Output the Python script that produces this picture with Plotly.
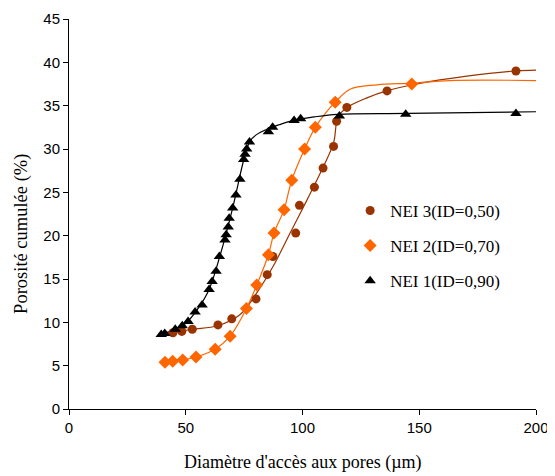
import plotly.graph_objects as go

# ---- data ----
# NEI 3 (ID=0,50) measured points
nei3_x = [44.5, 48.3, 52.8, 63.8, 69.7, 80.1, 84.9, 87.3, 97.1, 98.7, 105.1, 108.8, 113.3, 114.6, 119.0, 136.2, 191.4]
nei3_y = [8.8, 8.95, 9.2, 9.7, 10.4, 12.7, 15.5, 17.6, 20.3, 23.5, 25.6, 27.8, 30.3, 33.2, 34.8, 36.7, 39.0]
# NEI 3 fitted curve
nei3_fit_x = [41, 44.7, 52.6, 63.6, 73.3, 80.4, 87.5, 94.7, 101.9, 109, 113.3, 115.4, 120.4, 127.6, 136, 149, 170.4, 191.4, 200]
nei3_fit_y = [8.7, 8.8, 9.2, 9.6, 10.9, 13.4, 16.5, 20.3, 24.1, 28.0, 30.7, 33.8, 35.0, 35.9, 36.7, 37.5, 38.4, 39.0, 39.1]

# NEI 2 (ID=0,70) measured points
nei2_x = [41.1, 44.4, 48.7, 54.4, 62.6, 69.0, 76.0, 80.4, 85.4, 87.8, 92.1, 95.4, 100.9, 105.5, 114.0, 146.8]
nei2_y = [5.4, 5.5, 5.65, 6.0, 6.9, 8.4, 11.6, 14.3, 17.8, 20.3, 23.0, 26.4, 30.0, 32.5, 35.4, 37.5]
# NEI 2 fitted curve
nei2_fit_x = [40, 41.1, 44.4, 48.7, 54.4, 62.6, 69.0, 76.0, 80.4, 85.4, 87.8, 92.1, 95.4, 100.9, 105.5, 114.0, 120.4, 131.9, 146.8, 163.3, 200]
nei2_fit_y = [5.3, 5.4, 5.5, 5.65, 6.0, 6.9, 8.4, 11.6, 14.3, 17.8, 20.3, 23.0, 26.4, 30.0, 32.5, 35.4, 36.9, 37.4, 37.6, 37.9, 37.9]

# NEI 1 (ID=0,90) measured points
nei1_x = [39.5, 41.0, 45.5, 48.5, 51.0, 54.0, 57.0, 60.0, 61.3, 63.0, 64.4, 66.8, 67.3, 68.2, 68.6, 70.1, 71.5, 73.2, 74.8, 75.4, 76.1, 77.3, 85.4, 87.2, 96.4, 99.2, 115.8, 144.2, 191.4]
nei1_y = [8.6, 8.7, 9.2, 9.6, 10.1, 11.2, 12.0, 13.8, 14.7, 15.9, 17.6, 19.5, 20.1, 21.0, 22.0, 23.2, 24.7, 26.5, 28.8, 29.4, 30.0, 30.8, 32.0, 32.5, 33.3, 33.5, 33.8, 34.0, 34.1]
# NEI 1 fitted curve
nei1_fit_x = [38.5, 45, 50, 55, 60, 65, 70, 75, 77.5, 80, 85, 90, 96, 105, 115, 145, 200]
nei1_fit_y = [8.6, 9.1, 9.9, 11.5, 13.8, 18.0, 23.1, 28.9, 30.9, 31.6, 32.3, 32.8, 33.3, 33.7, 34.0, 34.1, 34.3]

series_names = ["NEI 3(ID=0,50)", "NEI 2(ID=0,70)", "NEI 1(ID=0,90)"]
x_ticks = [0, 50, 100, 150, 200]
y_ticks = [0, 5, 10, 15, 20, 25, 30, 35, 40, 45]
x_title = "Diamètre d'accès aux pores (µm)"
y_title = "Porosité cumulée (%)"

BROWN = "#993300"
ORANGE = "#FF6600"
BLACK = "#000000"
SERIF = "Liberation Serif, Times New Roman, serif"
SANS = "Liberation Sans, Arial, sans-serif"

fig = go.Figure()

# fitted curves
for fx, fy, col in [(nei3_fit_x, nei3_fit_y, BROWN), (nei2_fit_x, nei2_fit_y, ORANGE), (nei1_fit_x, nei1_fit_y, BLACK)]:
    fig.add_trace(go.Scatter(x=fx, y=fy, mode="lines", line=dict(color=col, width=1.2, shape="spline", smoothing=1.0),
                             showlegend=False, hoverinfo="skip"))

# markers
fig.add_trace(go.Scatter(x=nei3_x, y=nei3_y, mode="markers", name=series_names[0], legendgroup="a",
                         marker=dict(symbol="circle", size=9, color=BROWN)))
fig.add_trace(go.Scatter(x=nei2_x, y=nei2_y, mode="markers", name=series_names[1], legendgroup="b",
                         marker=dict(symbol="diamond", size=10, color=ORANGE)))
fig.add_trace(go.Scatter(x=nei1_x, y=nei1_y, mode="markers", name=series_names[2], legendgroup="c",
                         marker=dict(symbol="triangle-up", size=10, color=BLACK)))

axis_common = dict(showgrid=False, zeroline=False, showline=True, linecolor="#000000", linewidth=1,
                   ticks="outside", ticklen=5, tickcolor="#000000", automargin=False,
                   tickfont=dict(family=SANS, size=15, color="#000000"))

# the page body adds an 8px offset, so the figure is drawn 8px smaller and shifted
fig.update_layout(
    width=547, height=468,
    margin=dict(l=61, r=19, t=11, b=67),
    paper_bgcolor="white", plot_bgcolor="white",
    xaxis=dict(range=[0, 200], tickvals=x_ticks, **axis_common),
    yaxis=dict(range=[0, 45], tickvals=y_ticks, **axis_common),
    legend=dict(x=0.602, y=0.554, xanchor="left", yanchor="top", traceorder="grouped", tracegroupgap=10,
                bgcolor="rgba(0,0,0,0)", itemwidth=30,
                font=dict(family=SERIF, size=17, color="#000000")),
    annotations=[
        dict(text=x_title, xref="paper", yref="paper", x=0.5, y=-0.136, xanchor="center", yanchor="middle",
             showarrow=False, font=dict(family=SERIF, size=18, color="#000000")),
        dict(text=y_title, xref="paper", yref="paper", x=-0.1006, y=0.449, xanchor="center", yanchor="middle",
             textangle=-90, showarrow=False, font=dict(family=SERIF, size=18.5, color="#000000")),
    ],
)

fig.write_html("out.html")
